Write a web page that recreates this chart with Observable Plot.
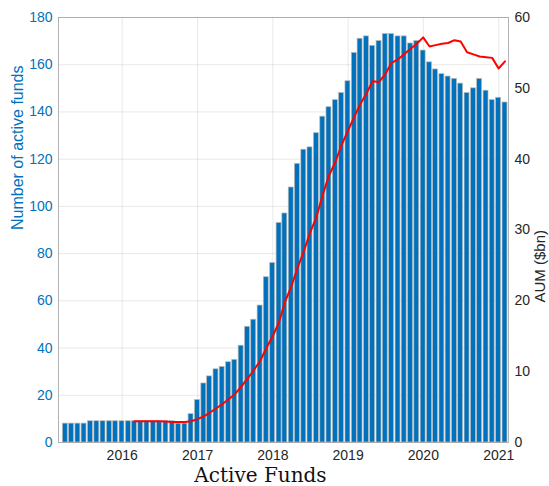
<!DOCTYPE html>
<html>
<head>
<meta charset="utf-8">
<script src="https://cdn.jsdelivr.net/npm/d3@7"></script>
<script src="https://cdn.jsdelivr.net/npm/@observablehq/plot@0.6"></script>
<style>
  body { margin: 0; background: #fff; }
  #wrap { position: relative; width: 549px; height: 486px; }
  #caption { position: absolute; left: 0; top: 465px; width: 521px; text-align: center;
    font-family: "DejaVu Serif", "Liberation Serif", serif; font-size: 20px; line-height: 20px; color: #111; }
</style>
</head>
<body>
<div id="wrap"><div id="chart"></div><div id="caption">Active Funds</div></div>
<script>
// ---- data ----
const firstMonth = "2015-03";          // first bar (month-end dates)
const fundCounts = [8,8,8,8,9,9,9,9,9,9,9,9,9,9,9,9,9,9,8,8,
  12,18,25,28,31,32,34,35,41,49,52,58,70,76,93,97,108,118,124,125,
  131,138,142,145,148,153,165,171,172,168,170,173,173,172,172,169,170,166,161,158,
  156,155,154,152,148,150,154,149,145,146,144];
const aumFirstIndex = 11;               // AUM series starts Feb 2016
const aumValues = [3.0,3.0,3.0,3.0,3.0,2.95,2.9,2.9,2.9,3.0,
  3.3,3.7,4.2,4.8,5.4,6.1,6.8,7.9,9.0,10.2,
  11.5,13.3,15.0,17.0,19.8,22.0,24.6,27.0,29.6,31.8,
  35.0,37.7,39.6,42.0,44.0,46.0,47.7,49.3,51.0,50.9,
  52.0,53.6,54.1,54.8,55.6,56.3,57.2,55.9,56.1,56.3,
  56.4,56.8,56.6,55.1,54.8,54.5,54.4,54.3,52.8,53.8];
const leftTicks = [0,20,40,60,80,100,120,140,160,180];
const rightTicks = [0,10,20,30,40,50,60];
const yearTicks = ["2016","2017","2018","2019","2020","2021"];
const leftLabel = "Number of active funds";
const rightLabel = "AUM ($bn)";

// ---- build ----
const start = d3.utcParse("%Y-%m")(firstMonth);
const monthEnd = i => d3.utcDay.offset(d3.utcMonth.offset(start, i + 1), -1);
const bars = fundCounts.map((v, i) => ({date: monthEnd(i), value: v}));
const k = d3.max(leftTicks) / d3.max(rightTicks);  // right-axis -> left-axis units
const aum = aumValues.map((v, j) => ({date: monthEnd(j + aumFirstIndex), value: v * k}));
const years = yearTicks.map(d3.utcParse("%Y"));

const blue = "#0072BD";
const dark = "#262626";
const font = "'Liberation Sans', Arial, Helvetica, sans-serif";

const chart = Plot.plot({
  width: 549,
  height: 464,
  marginLeft: 58,
  marginRight: 41,
  marginTop: 17,
  marginBottom: 22,
  style: {fontFamily: font, fontSize: "14px", background: "#fff"},
  x: {type: "utc", domain: [new Date(Date.UTC(2015,1,26)), new Date(Date.UTC(2021,1,17))]},
  y: {domain: [0, d3.max(leftTicks)]},
  marks: [
    Plot.gridY(leftTicks, {stroke: "#000", strokeOpacity: 0.09}),
    Plot.gridX(years, {stroke: "#000", strokeOpacity: 0.09}),
    Plot.rectY(bars, {
      x1: d => d3.utcDay.offset(d.date, -12),
      x2: d => d3.utcDay.offset(d.date, 12),
      y: "value", fill: blue, stroke: "#b8b8b8", strokeWidth: 0.7
    }),
    Plot.line(aum, {x: "date", y: "value", stroke: "#ff0000", strokeWidth: 2}),
    Plot.frame({stroke: "#a0a0a0", strokeWidth: 0.8}),
    Plot.axisY({anchor: "left", ticks: leftTicks, tickSize: 0, tickPadding: 6,
      color: blue, label: null, fontSize: 14}),
    Plot.axisY({anchor: "right", ticks: rightTicks.map(t => t * k), tickFormat: d => d / k,
      tickSize: 0, tickPadding: 6, color: dark, label: null, fontSize: 14}),
    Plot.axisX({anchor: "bottom", ticks: years, tickFormat: d3.utcFormat("%Y"), tickSize: 0, tickPadding: 8,
      color: dark, label: null, fontSize: 14}),
    Plot.text([leftLabel], {frameAnchor: "left", text: d => d, rotate: -90, dx: -41,
      fill: blue, fontSize: 16}),
    Plot.text([rightLabel], {frameAnchor: "right", text: d => d, rotate: -90, dx: 32,
      fill: dark, fontSize: 15})
  ]
});
document.getElementById("chart").appendChild(chart);
</script>
</body>
</html>
